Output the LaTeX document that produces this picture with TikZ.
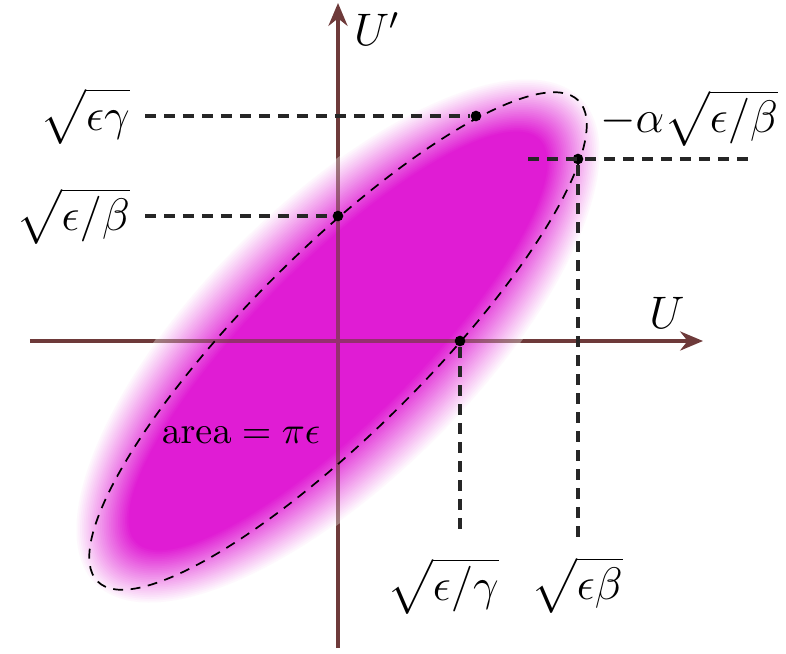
\documentclass[tikz,border=0pt]{standalone}
\usepackage{amsmath}
\usetikzlibrary{arrows.meta, positioning}
\definecolor{axisbrown}{RGB}{110,58,58}
\definecolor{blobmag}{RGB}{224,28,212}

\begin{document}
\begin{tikzpicture}[
  x=0.925cm, y=0.925cm,
  axis/.style={-{Stealth[length=6pt, width=5pt]}, line width=1.1pt, axisbrown},
  guide/.style={dash pattern=on 3pt off 2pt, line width=0.8pt, black!85},
  rim/.style={dash pattern=on 2.6pt off 2pt, line width=0.45pt},
  dot/.style={circle, fill=black, inner sep=0pt, minimum size=2.8pt},
  lab/.style={font=\large, inner sep=2pt, outer sep=2pt},
]
\useasboundingbox (-3.38,-3.12) rectangle (4.48,3.41);

% blurred beam blob
\foreach \k [evaluate=\k as \pct using 100*\k/30, evaluate=\k as \dr using 0.6-0.6*\k/30] in {0,...,30}
  \fill[blobmag!\pct!white, rotate=45] (0,0) ellipse [x radius=2.85+\dr, y radius=0.80+\dr];

% axes
\coordinate (uL) at (-3.08,0);
\coordinate (uR) at (3.65,0);
\coordinate (vB) at (0,-3.07);
\coordinate (vT) at (0,3.38);
\draw[axis] (uL) -- (uR);
\draw[axis] (vB) -- (vT);
\node[lab] (lU) at (3.29,0.28) {$U$};
\node[lab] (lUp) at (0.39,3.12) {$U'$};

% blob again, see-through over the axes
\begin{scope}[transparency group, opacity=0.35]
\foreach \k [evaluate=\k as \pct using 100*\k/30, evaluate=\k as \dr using 0.6-0.6*\k/30] in {0,...,30}
  \fill[blobmag!\pct!white, rotate=45] (0,0) ellipse [x radius=2.85+\dr, y radius=0.80+\dr];
\end{scope}

% emittance ellipse
\draw[rim, rotate=45] (0,0) ellipse [x radius=3.40, y radius=0.90];
\node (area) at (-0.97,-0.94) {$\mathrm{area} = \pi\epsilon$};

% points on the ellipse
\node[dot] (pG) at (1.38,2.25) {};
\node[dot] (pB) at (2.40,1.82) {};
\node[dot] (pC) at (0,1.25) {};
\node[dot] (pD) at (1.22,0) {};

% labels
\node[lab, anchor=east] (lG) at (-1.93,2.25) {$\sqrt{\epsilon\gamma\vphantom{/}}$};
\node[lab, anchor=east] (lC) at (-1.93,1.25) {$\sqrt{\epsilon/\beta}$};
\node[lab] (lA) at (3.51,2.23) {$-\alpha\sqrt{\epsilon/\beta}$};
\node[lab] (lDg) at (1.05,-2.45) {$\sqrt{\epsilon/\gamma}$};
\node[lab] (lDb) at (2.39,-2.44) {$\sqrt{\epsilon\beta\vphantom{/}}$};

% guide lines
\coordinate (rS) at (1.90,1.82);
\coordinate (rE) at (4.14,1.82);
\coordinate (dG) at (1.22,-1.92);
\coordinate (dB) at (2.40,-1.98);
\draw[guide] (lG.east) -- (pG);
\draw[guide] (lC.east) -- (pC);
\draw[guide] (rS) -- (rE);
\draw[guide] (pD) -- (dG);
\draw[guide] (pB) -- (dB);

\end{tikzpicture}
\end{document}
